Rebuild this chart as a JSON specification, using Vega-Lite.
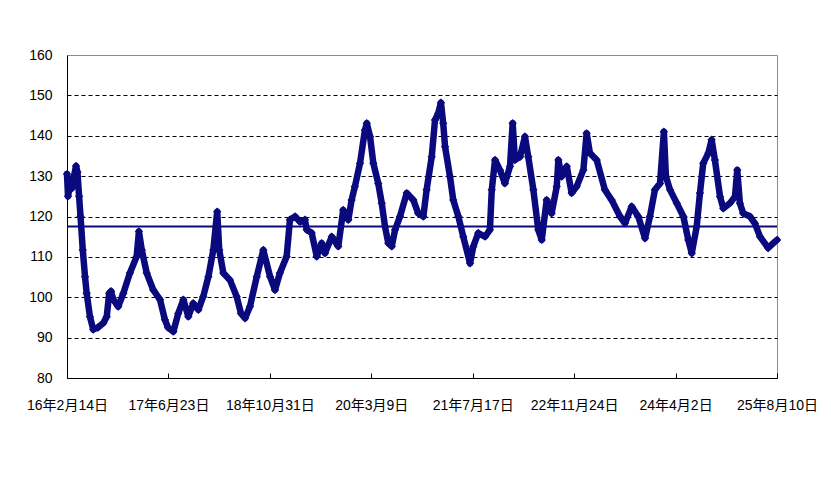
{
  "$schema": "https://vega.github.io/schema/vega-lite/v6.json",
  "width": 710,
  "height": 323,
  "autosize": "none",
  "padding": {"left": 67, "top": 55, "right": 54, "bottom": 126},
  "background": "white",
  "config": {
    "view": {"stroke": "#8c8c8c", "strokeWidth": 1},
    "font": "Liberation Sans, Arial, Noto Sans CJK JP, sans-serif",
    "axis": {
      "labelFont": "Liberation Sans, Arial, Noto Sans CJK JP, sans-serif",
      "labelFontSize": 14,
      "labelColor": "#000000",
      "domainColor": "#000000",
      "domainWidth": 1,
      "title": null
    }
  },
  "datasets": {
    "series": [
      {"date": "2016-02-14", "v": 130.5},
      {"date": "2016-02-19", "v": 125},
      {"date": "2016-02-29", "v": 128},
      {"date": "2016-03-09", "v": 127},
      {"date": "2016-03-19", "v": 130},
      {"date": "2016-03-29", "v": 132.5},
      {"date": "2016-04-05", "v": 131},
      {"date": "2016-04-13", "v": 125},
      {"date": "2016-04-20", "v": 120},
      {"date": "2016-05-01", "v": 111.7},
      {"date": "2016-05-12", "v": 105.1},
      {"date": "2016-05-20", "v": 101},
      {"date": "2016-06-05", "v": 95.2},
      {"date": "2016-06-21", "v": 92},
      {"date": "2016-07-14", "v": 92.5},
      {"date": "2016-08-09", "v": 93.6},
      {"date": "2016-08-26", "v": 95.2},
      {"date": "2016-09-07", "v": 101},
      {"date": "2016-09-16", "v": 101.5},
      {"date": "2016-09-27", "v": 99.4},
      {"date": "2016-10-21", "v": 97.7},
      {"date": "2016-11-15", "v": 101},
      {"date": "2016-12-17", "v": 106},
      {"date": "2017-01-19", "v": 110.1},
      {"date": "2017-01-30", "v": 116.3},
      {"date": "2017-02-13", "v": 111.7},
      {"date": "2017-03-09", "v": 106},
      {"date": "2017-04-10", "v": 101.8},
      {"date": "2017-05-13", "v": 99.4},
      {"date": "2017-06-06", "v": 94.4},
      {"date": "2017-06-21", "v": 92.5},
      {"date": "2017-07-17", "v": 91.5},
      {"date": "2017-08-10", "v": 96},
      {"date": "2017-09-04", "v": 99.4},
      {"date": "2017-09-28", "v": 95.2},
      {"date": "2017-10-22", "v": 98.5},
      {"date": "2017-11-16", "v": 96.9},
      {"date": "2017-12-10", "v": 100.2},
      {"date": "2018-01-04", "v": 105.1},
      {"date": "2018-01-28", "v": 111.7},
      {"date": "2018-02-16", "v": 121.2},
      {"date": "2018-02-26", "v": 111.7},
      {"date": "2018-03-18", "v": 106},
      {"date": "2018-04-19", "v": 104.3},
      {"date": "2018-05-22", "v": 100.2},
      {"date": "2018-06-12", "v": 96},
      {"date": "2018-07-02", "v": 94.8},
      {"date": "2018-07-26", "v": 97.7},
      {"date": "2018-08-28", "v": 105.1},
      {"date": "2018-09-29", "v": 111.7},
      {"date": "2018-11-01", "v": 105.1},
      {"date": "2018-11-25", "v": 101.8},
      {"date": "2018-12-19", "v": 106},
      {"date": "2019-01-21", "v": 110.1},
      {"date": "2019-02-06", "v": 119.2},
      {"date": "2019-03-03", "v": 120},
      {"date": "2019-03-27", "v": 118.7},
      {"date": "2019-04-20", "v": 119.2},
      {"date": "2019-04-29", "v": 116.7},
      {"date": "2019-05-23", "v": 115.9},
      {"date": "2019-06-17", "v": 110.1},
      {"date": "2019-07-11", "v": 113.4},
      {"date": "2019-07-27", "v": 110.9},
      {"date": "2019-08-29", "v": 115},
      {"date": "2019-09-30", "v": 112.6},
      {"date": "2019-10-24", "v": 121.6},
      {"date": "2019-11-18", "v": 119.2},
      {"date": "2019-12-04", "v": 124.1},
      {"date": "2019-12-20", "v": 127.4},
      {"date": "2020-01-14", "v": 133.2},
      {"date": "2020-02-07", "v": 141.4},
      {"date": "2020-02-16", "v": 143.1},
      {"date": "2020-03-03", "v": 139.8},
      {"date": "2020-03-19", "v": 133.2},
      {"date": "2020-04-12", "v": 128.2},
      {"date": "2020-04-29", "v": 123.3},
      {"date": "2020-05-15", "v": 117.5},
      {"date": "2020-05-31", "v": 113.4},
      {"date": "2020-06-17", "v": 112.6},
      {"date": "2020-07-03", "v": 116.7},
      {"date": "2020-07-27", "v": 120},
      {"date": "2020-08-29", "v": 125.8},
      {"date": "2020-09-30", "v": 124.1},
      {"date": "2020-10-24", "v": 120.8},
      {"date": "2020-11-18", "v": 120},
      {"date": "2020-12-04", "v": 126.6},
      {"date": "2020-12-29", "v": 134.8},
      {"date": "2021-01-14", "v": 143.9},
      {"date": "2021-01-30", "v": 145.6},
      {"date": "2021-02-12", "v": 148.2},
      {"date": "2021-02-23", "v": 143.1},
      {"date": "2021-03-04", "v": 137.3},
      {"date": "2021-03-28", "v": 129.9},
      {"date": "2021-04-13", "v": 124.1},
      {"date": "2021-05-08", "v": 120},
      {"date": "2021-06-01", "v": 115},
      {"date": "2021-07-04", "v": 108.4},
      {"date": "2021-07-20", "v": 112.6},
      {"date": "2021-08-13", "v": 115.9},
      {"date": "2021-09-15", "v": 115},
      {"date": "2021-10-09", "v": 116.7},
      {"date": "2021-10-18", "v": 126.6},
      {"date": "2021-11-03", "v": 134},
      {"date": "2021-11-27", "v": 131.5},
      {"date": "2021-12-21", "v": 128.2},
      {"date": "2022-01-15", "v": 132.4},
      {"date": "2022-01-28", "v": 143.1},
      {"date": "2022-02-08", "v": 134},
      {"date": "2022-03-05", "v": 134.8},
      {"date": "2022-03-29", "v": 139.8},
      {"date": "2022-04-14", "v": 134.8},
      {"date": "2022-05-09", "v": 126.6},
      {"date": "2022-06-02", "v": 116.7},
      {"date": "2022-06-19", "v": 114.2},
      {"date": "2022-07-13", "v": 124.1},
      {"date": "2022-08-06", "v": 120.8},
      {"date": "2022-08-31", "v": 127.4},
      {"date": "2022-09-08", "v": 134},
      {"date": "2022-09-24", "v": 129.9},
      {"date": "2022-10-19", "v": 132.4},
      {"date": "2022-11-12", "v": 125.8},
      {"date": "2022-12-06", "v": 127.4},
      {"date": "2023-01-08", "v": 131.5},
      {"date": "2023-01-24", "v": 140.6},
      {"date": "2023-02-09", "v": 135.7},
      {"date": "2023-03-14", "v": 134},
      {"date": "2023-04-23", "v": 126.6},
      {"date": "2023-05-26", "v": 124.1},
      {"date": "2023-07-06", "v": 120},
      {"date": "2023-07-30", "v": 118.3},
      {"date": "2023-09-01", "v": 122.5},
      {"date": "2023-10-03", "v": 120},
      {"date": "2023-11-05", "v": 114.6},
      {"date": "2023-11-29", "v": 120},
      {"date": "2023-12-23", "v": 126.6},
      {"date": "2024-01-17", "v": 128.2},
      {"date": "2024-02-05", "v": 141},
      {"date": "2024-02-15", "v": 129.9},
      {"date": "2024-03-06", "v": 126.6},
      {"date": "2024-04-08", "v": 123.3},
      {"date": "2024-05-10", "v": 120},
      {"date": "2024-06-03", "v": 114.2},
      {"date": "2024-06-20", "v": 110.9},
      {"date": "2024-07-14", "v": 117.5},
      {"date": "2024-07-30", "v": 125.8},
      {"date": "2024-08-15", "v": 133.2},
      {"date": "2024-09-09", "v": 135.7},
      {"date": "2024-09-25", "v": 139},
      {"date": "2024-10-11", "v": 134},
      {"date": "2024-11-05", "v": 124.9},
      {"date": "2024-11-21", "v": 122},
      {"date": "2024-12-23", "v": 123.3},
      {"date": "2025-01-17", "v": 124.9},
      {"date": "2025-01-28", "v": 131.5},
      {"date": "2025-02-10", "v": 123.3},
      {"date": "2025-02-26", "v": 120.8},
      {"date": "2025-03-31", "v": 120},
      {"date": "2025-04-24", "v": 118.3},
      {"date": "2025-05-19", "v": 115},
      {"date": "2025-06-28", "v": 112.2},
      {"date": "2025-07-23", "v": 113.4},
      {"date": "2025-08-10", "v": 114.2}
    ],
    "avg": [{"v": 117.5}]
  },
  "encoding": {
    "x": {
      "field": "date",
      "type": "temporal",
      "scale": {
        "type": "utc",
        "nice": false,
        "domain": [
          {"year": 2016, "month": 2, "date": 14, "utc": true},
          {"year": 2025, "month": 8, "date": 10, "utc": true}
        ]
      },
      "axis": {
        "values": [
          {"year": 2016, "month": 2, "date": 14, "utc": true},
          {"year": 2017, "month": 6, "date": 23, "utc": true},
          {"year": 2018, "month": 10, "date": 31, "utc": true},
          {"year": 2020, "month": 3, "date": 9, "utc": true},
          {"year": 2021, "month": 7, "date": 17, "utc": true},
          {"year": 2022, "month": 11, "date": 24, "utc": true},
          {"year": 2024, "month": 4, "date": 2, "utc": true},
          {"year": 2025, "month": 8, "date": 10, "utc": true}
        ],
        "format": "%y年%-m月%-d日",
        "grid": false,
        "ticks": true,
        "tickColor": "#000000",
        "tickSize": -5,
        "labelPadding": 25,
        "labelFlush": false,
        "labelOverlap": false
      }
    },
    "y": {
      "field": "v",
      "type": "quantitative",
      "scale": {"domain": [80, 160], "nice": false, "zero": false},
      "axis": {
        "values": [80, 90, 100, 110, 120, 130, 140, 150, 160],
        "ticks": false,
        "labelPadding": 15,
        "grid": true,
        "gridDash": [4, 3],
        "gridColor": {"condition": {"test": "datum.value == 80 || datum.value == 160", "value": "transparent"}, "value": "#000000"},
        "gridWidth": 1
      }
    }
  },
  "layer": [
    {
      "data": {"name": "series"},
      "mark": {"type": "line", "color": "#0a0a7e", "strokeWidth": 6.5, "strokeJoin": "round", "strokeCap": "round"}
    },
    {
      "data": {"name": "series"},
      "mark": {"type": "point", "shape": "diamond", "filled": true, "color": "#0a0a7e", "size": 70, "opacity": 1}
    },
    {
      "data": {"name": "avg"},
      "mark": {"type": "rule", "color": "#0a0a7e", "strokeWidth": 2},
      "encoding": {"x": {"value": 0}, "x2": {"value": 710}, "y": {"field": "v", "type": "quantitative"}}
    }
  ]
}
